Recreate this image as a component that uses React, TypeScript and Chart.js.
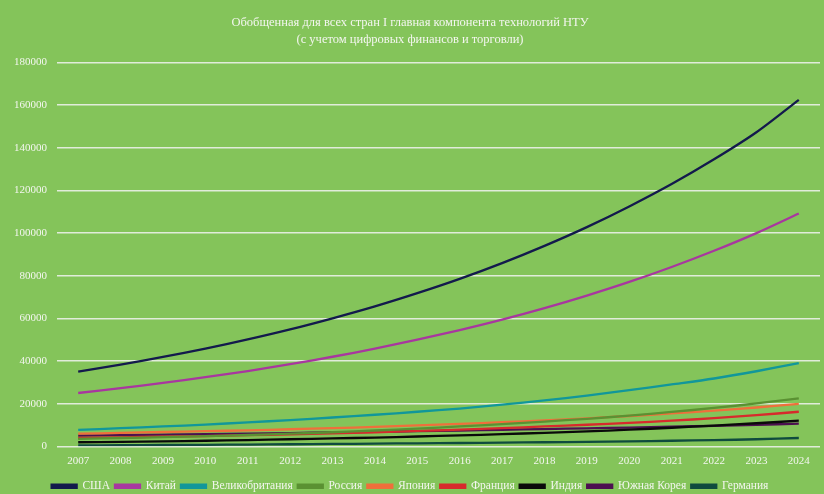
import React, { useEffect, useRef } from "react";
import { Chart, registerables } from "chart.js";

Chart.register(...registerables);

const years = ["2007","2008","2009","2010","2011","2012","2013","2014","2015","2016","2017","2018","2019","2020","2021","2022","2023","2024"];

const usa = [35000, 38300, 41900, 45800, 50100, 54800, 60000, 65600, 71800, 78500, 85900, 94000, 102800, 112500, 123000, 134600, 147300, 162500];
const china = [25000, 27300, 29700, 32400, 35300, 38500, 42000, 45800, 50000, 54500, 59400, 64800, 70700, 77100, 84100, 91700, 100000, 109200];
const uk = [7700, 8500, 9300, 10200, 11200, 12300, 13500, 14800, 16200, 17700, 19500, 21500, 23800, 26300, 29000, 31800, 35200, 39000];
const russia = [3500, 3900, 4300, 4800, 5300, 5900, 6600, 7400, 8300, 9300, 10400, 11600, 12900, 14400, 16100, 18000, 20100, 22500];
const japan = [5900, 6300, 6700, 7100, 7500, 8000, 8500, 9100, 9800, 10500, 11300, 12100, 13100, 14200, 15400, 16700, 18200, 19900];
const france = [3900, 4200, 4500, 4800, 5200, 5600, 6100, 6600, 7200, 7800, 8500, 9300, 10100, 11000, 12000, 13200, 14600, 16200];
const india = [1900, 2100, 2350, 2600, 2900, 3300, 3700, 4100, 4600, 5100, 5700, 6300, 7000, 7800, 8700, 9700, 10800, 12000];
const korea = [5000, 5200, 5500, 5700, 5900, 6200, 6500, 6800, 7100, 7400, 7700, 8100, 8400, 8800, 9200, 9600, 10100, 10600];
const germany = [400, 500, 600, 700, 800, 950, 1100, 1250, 1400, 1550, 1700, 1900, 2100, 2300, 2600, 2900, 3300, 3900];

const seriesNames = ["США", "Китай", "Великобритания", "Россия", "Япония", "Франция", "Индия", "Южная Корея", "Германия"];
const seriesColors = ["#131a4c", "#a8379f", "#11979a", "#5a9132", "#ef6f3b", "#d72a2c", "#0a0a0a", "#4c1050", "#0f4b3e"];
const seriesValues = [usa, china, uk, russia, japan, france, india, korea, germany];

const titleLines = ["Обобщенная для всех стран I главная компонента технологий НТУ", "(с учетом цифровых финансов и торговли)"];

const BG = "#84c45a";
const TXT = "#f3f6ef";
const FONT = "'Liberation Serif', 'Times New Roman', serif";

export default function App() {
  const ref = useRef<HTMLCanvasElement | null>(null);
  useEffect(() => {
    if (!ref.current) return;
    const chart = new Chart(ref.current, {
      type: "line",
      data: {
        labels: years,
        datasets: seriesNames.map((name, i) => ({
          label: name,
          data: seriesValues[i],
          borderColor: seriesColors[i],
          backgroundColor: seriesColors[i],
          borderWidth: 2.3,
          pointRadius: 0,
          tension: 0.3,
          fill: false,
        })),
      },
      options: {
        responsive: false,
        animation: false,
        layout: { padding: { left: 0, right: 4, top: 1, bottom: -8 } },
        plugins: {
          title: {
            display: true,
            text: titleLines,
            color: TXT,
            font: { family: FONT, size: 12.5, weight: "normal", lineHeight: 1.3 },
            padding: { top: 14, bottom: 15 },
          },
          legend: {
            position: "bottom",
            labels: {
              color: TXT,
              font: { family: FONT, size: 11.5 },
              boxWidth: 25,
              boxHeight: 3,
              padding: 5,
            },
          },
          tooltip: { enabled: false },
        },
        scales: {
          x: {
            offset: true,
            grid: { display: false, drawTicks: false },
            border: { display: false },
            ticks: { color: TXT, font: { family: FONT, size: 11 }, padding: 8, maxRotation: 0, autoSkip: false },
          },
          y: {
            min: 0,
            max: 180000,
            grid: { color: "rgba(230,238,224,0.95)", lineWidth: 1.4, drawTicks: false },
            border: { display: false },
            ticks: {
              stepSize: 20000,
              color: TXT,
              font: { family: FONT, size: 11 },
              padding: 10,
              callback: (v: any) => String(v),
            },
            afterFit: (s: any) => { s.width = 57; },
          },
        },
      },
    });
    return () => chart.destroy();
  }, []);
  return (
    <div style={{ position: "fixed", left: 0, top: 0, width: 824, height: 494, background: BG }}>
      <canvas ref={ref} width={824} height={494} style={{ display: "block", background: BG }} />
    </div>
  );
}
